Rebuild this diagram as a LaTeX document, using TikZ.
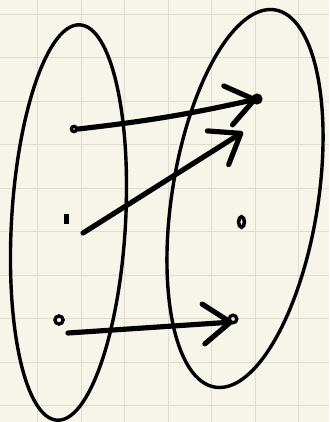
\documentclass[tikz,border=0pt]{standalone}
\usepackage{xcolor}
\usepackage{tikz}
\usetikzlibrary{arrows.meta, positioning, calc, shapes.geometric}
\definecolor{paper}{RGB}{247, 245, 233}
\definecolor{gridline}{RGB}{222, 220, 205}
\tikzset{
    elem/.style={circle, draw, line width=2.8pt, inner sep=0pt, minimum size=5pt},
    setline/.style={line width=2.9pt},
    mapsto/.style={line width=4.4pt, line cap=round, line join=round,
        -{Straight Barb[length=23pt, width=34pt, round]}},
}

\begin{document}
\begin{tikzpicture}[x=0.03cm, y=-0.03cm]
        % paper
        \fill[paper] (0,0) rectangle (329,422);
        \useasboundingbox (0,0) rectangle (329,422);
        \foreach \gx in {37.5, 81, 124.5, 168, 211.5, 255, 298.5}
            \draw[gridline, line width=0.8pt] (\gx,0) -- (\gx,422);
        \foreach \gy in {14, 57.5, 101, 144.5, 188, 231.5, 275, 318.5, 362, 405.5}
            \draw[gridline, line width=0.8pt] (0,\gy) -- (329,\gy);

        % domain (left) and codomain (right)
        \draw[setline, rotate around={-3.3:(68.5,222.5)}] (68.5,222.5) ellipse [x radius=57, y radius=198];
        \draw[setline, rotate around={-9:(245,198.5)}] (245,198.5) ellipse [x radius=73, y radius=191];

        % elements
        \node[elem, minimum size=4.5pt] (la) at (74,129) {};
        \node[draw, line width=2.6pt, inner sep=0pt, minimum width=2pt, minimum height=6.5pt] (lb) at (66.5,219) {};
        \node[elem, minimum size=7pt] (lc) at (59,320) {};
        \node[elem, fill, minimum size=6.5pt] (ra) at (257,99) {};
        \node[ellipse, draw, line width=3pt, inner sep=0pt, minimum width=5pt, minimum height=9pt] (rb) at (241.5,222) {};
        \node[elem, minimum size=6.5pt] (rc) at (233,319) {};

        % free ends
        \coordinate (s2) at (83,233);
        \coordinate (e2) at (243,132);
        \coordinate (s3) at (68,333);
        \coordinate (e3) at (233,322);

        % the map
        \draw[mapsto] (la.east) to[bend right=3] (ra.center);
        \draw[mapsto] (s2) -- (e2);
        \draw[mapsto] (s3) -- (e3);
    \end{tikzpicture}
\end{document}
